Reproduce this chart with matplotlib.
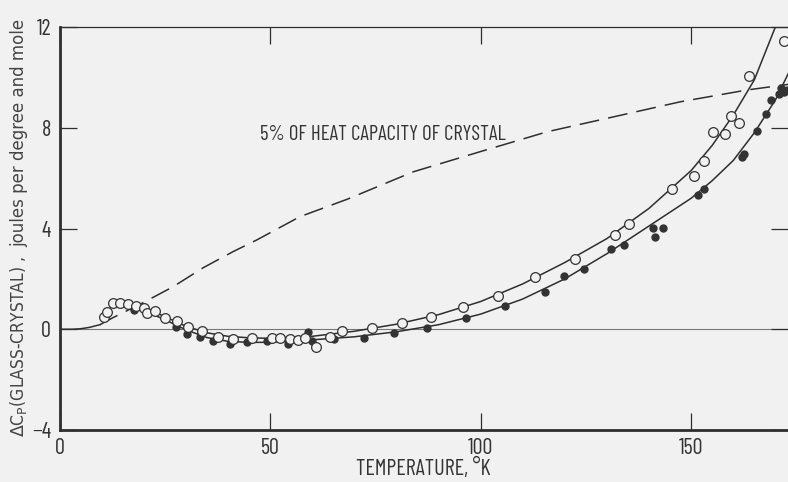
import matplotlib
matplotlib.use('Agg')
import matplotlib.pyplot as plt
import numpy as np

# open circles (glass A)
open_T = [10.6, 11.3, 12.7, 14.4, 16.3, 18.2, 20.1, 20.8, 22.7, 25.1, 27.9, 30.5, 33.8,
          37.6, 41.2, 45.7, 50.5, 52.4, 54.7, 56.6, 58.3, 60.9, 64.2, 67.1, 74.2, 81.4,
          88.2, 95.8, 104.2, 112.9, 122.4, 132.0, 135.3, 145.5, 150.7, 153.1, 155.2,
          158.1, 159.5, 161.4, 163.8, 172.1]
open_dC = [0.50, 0.69, 1.05, 1.05, 1.01, 0.93, 0.85, 0.65, 0.73, 0.46, 0.34, 0.10, -0.06,
           -0.30, -0.38, -0.34, -0.34, -0.34, -0.38, -0.42, -0.34, -0.69, -0.30, -0.06, 0.06,
           0.26, 0.50, 0.89, 1.33, 2.08, 2.80, 3.75, 4.19, 5.58, 6.09, 6.69, 7.84,
           7.76, 8.47, 8.19, 10.06, 11.45]

# filled circles (glass B)
fill_T = [17.7, 27.7, 30.3, 33.4, 36.5, 40.5, 44.5, 49.3, 54.3, 59.0, 60.0, 65.2, 72.3,
          79.5, 87.3, 96.6, 105.8, 115.3, 119.8, 124.6, 131.0, 134.1, 141.0, 141.4, 143.4,
          151.7, 153.1, 162.1, 162.6, 165.7, 167.8, 169.0, 170.9, 171.4, 172.1, 172.8]
fill_dC = [0.77, 0.10, -0.18, -0.30, -0.46, -0.58, -0.50, -0.46, -0.58, -0.10, -0.46, -0.38, -0.34,
           -0.14, 0.06, 0.46, 0.93, 1.49, 2.12, 2.40, 3.19, 3.35, 4.03, 3.67, 4.03,
           5.34, 5.58, 6.85, 6.96, 7.88, 8.55, 9.11, 9.34, 9.58, 9.42, 9.50]

# smooth curves drawn through the data
open_curve_T = [18, 22, 25, 30, 35, 40, 45, 50, 55, 60, 65, 70, 80, 90, 100, 110, 120,
                130, 140, 150, 155, 160, 165, 170]
open_curve_dC = [0.95, 0.72, 0.50, 0.12, -0.14, -0.28, -0.34, -0.36, -0.34, -0.28, -0.18,
                 -0.08, 0.20, 0.58, 1.10, 1.80, 2.65, 3.60, 4.80, 6.30, 7.30, 8.50, 9.90, 12.0]
fill_curve_T = [18, 22, 25, 30, 35, 40, 45, 50, 55, 60, 65, 70, 80, 90, 100, 110, 120,
                130, 140, 150, 155, 160, 165, 170, 173.5]
fill_curve_dC = [0.85, 0.60, 0.38, -0.02, -0.33, -0.48, -0.52, -0.52, -0.48, -0.42, -0.36,
                 -0.30, -0.10, 0.18, 0.60, 1.20, 2.00, 3.00, 4.10, 5.20, 5.90, 6.70, 7.80,
                 9.10, 10.3]

# 5 % of heat capacity of crystal
pct_T = [0, 3, 5, 7, 9.6, 12.7, 19.8, 27.0, 34.1, 41.2, 46.9, 57.1, 68.3, 84.0, 99.9,
         115.8, 131.5, 147.4, 163.3, 173.0]
pct_dC = [0, 0.0, 0.02, 0.07, 0.18, 0.46, 1.05, 1.69, 2.44, 3.08, 3.55, 4.47, 5.16, 6.25,
          7.05, 7.84, 8.43, 9.03, 9.50, 9.72]

bg = '#f1f1f1'
ink = '#2e2e2e'
narrow = ['Barlow Condensed', 'DejaVu Sans']

fig = plt.figure(figsize=(7.88, 4.82), dpi=100, facecolor=bg)
ax = fig.add_axes([59.5 / 788, 1 - 430 / 482, 1 - 59.5 / 788, (430 - 27) / 482])
ax.set_facecolor(bg)

ax.axhline(0, color='#777777', lw=0.8, zorder=1)

ax.plot(pct_T[:5], pct_dC[:5], color=ink, lw=1.1)
dash, = ax.plot(pct_T[4:], pct_dC[4:], color=ink, lw=1.1)
dash.set_dashes((13, 6))

ax.plot(open_curve_T, open_curve_dC, color=ink, lw=1.1, zorder=2)
ax.plot(fill_curve_T, fill_curve_dC, color=ink, lw=1.1, zorder=2)

ax.plot(fill_T, fill_dC, 'o', ms=5, color='#333333', zorder=3)
ax.plot(open_T, open_dC, 'o', ms=7, mfc=bg, mec='#333333', mew=0.9, zorder=4)

ax.text(47.5, 7.75, '5% OF HEAT CAPACITY OF CRYSTAL', fontsize=15, family=narrow,
        color='#333333', va='center', ha='left')

ax.set_xlim(0, 173)
ax.set_ylim(-4, 12)
ax.set_xticks([0, 50, 100, 150])
ax.set_yticks([-4, 0, 4, 8, 12])
ax.tick_params(direction='in', length=12, width=0.9, color=ink, top=True, right=True,
               labelsize=16, labelcolor='#333333', pad=6)
for lab in ax.get_xticklabels() + ax.get_yticklabels():
    lab.set_family(narrow)

ax.spines['left'].set_linewidth(2.0)
ax.spines['bottom'].set_linewidth(2.0)
ax.spines['top'].set_linewidth(0.9)
ax.spines['right'].set_visible(False)
for s in ax.spines.values():
    s.set_color(ink)

ax.set_xlabel('TEMPERATURE, °K', fontsize=16, family=narrow,
              color='#333333', labelpad=0)

fig.text(19 / 788, 1 - 437 / 482, r'$\Delta$C$_\mathrm{P}$(GLASS-CRYSTAL) ,', rotation=90,
         fontsize=12.5, family='DejaVu Sans', stretch='condensed', color='#444444',
         ha='center', va='bottom')
fig.text(19 / 788, 1 - 247 / 482, 'joules per degree and mole', rotation=90,
         fontsize=12, color='#444444', ha='center', va='bottom')

fig.savefig('out.png', dpi=100, facecolor=bg)
